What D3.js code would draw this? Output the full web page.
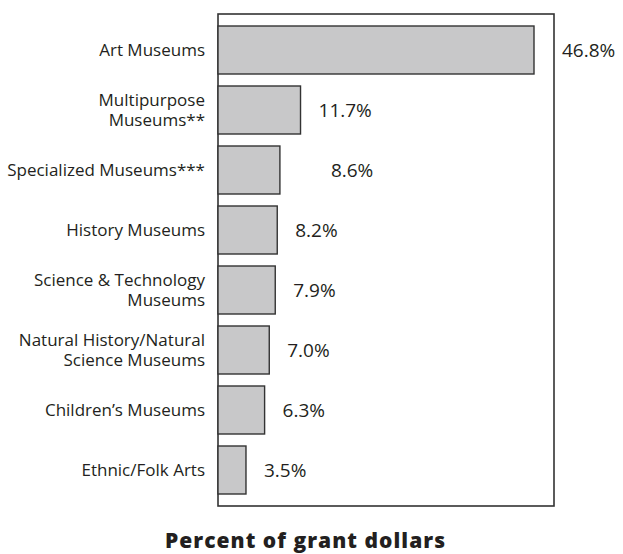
<!DOCTYPE html>
<html>
<head>
<meta charset="utf-8">
<script src="https://cdn.jsdelivr.net/npm/d3@7/dist/d3.min.js"></script>
<style>
  html, body { margin: 0; padding: 0; background: #fff; }
  svg { display: block; }
  text { font-family: "Open Sans", "Noto Sans", sans-serif; fill: #231f20; }
</style>
</head>
<body>
<svg id="chart" width="623" height="554"></svg>
<script>
// Museum grant categories (multi-line labels split with "|")
const categories = [
  "Art Museums",
  "Multipurpose|Museums**",
  "Specialized Museums***",
  "History Museums",
  "Science & Technology|Museums",
  "Natural History/Natural|Science Museums",
  "Children\u2019s Museums",
  "Ethnic/Folk Arts"
];
const percentValues = [46.8, 11.7, 8.6, 8.2, 7.9, 7.0, 6.3, 3.5];
const axisTitle = "Percent of grant dollars";

const svg = d3.select("#chart");

const frame = { left: 218, right: 554, top: 14, bottom: 506 };

const x = d3.scaleLinear()
  .domain([0, 46.8])
  .range([222.7, 534]);

const y = d3.scaleBand()
  .domain(categories)
  .range([20, 500])
  .paddingInner(0.2)
  .paddingOuter(0.1);

// plot frame
svg.append("rect")
  .attr("x", frame.left)
  .attr("y", frame.top)
  .attr("width", frame.right - frame.left)
  .attr("height", frame.bottom - frame.top)
  .attr("fill", "none")
  .attr("stroke", "#333")
  .attr("stroke-width", 1.6);

const rows = categories.map((c, i) => ({ cat: c, value: percentValues[i] }));

// bars grow from the frame's left edge
svg.append("g").selectAll("rect")
  .data(rows)
  .join("rect")
  .attr("x", frame.left)
  .attr("y", d => y(d.cat))
  .attr("width", d => x(d.value) - frame.left)
  .attr("height", y.bandwidth())
  .attr("fill", "#c8c8c9")
  .attr("stroke", "#333")
  .attr("stroke-width", 1.4);

// category labels, right aligned beside the frame
svg.append("g").selectAll("text")
  .data(rows)
  .join("text")
  .attr("text-anchor", "end")
  .attr("font-size", 17)
  .each(function(d) {
    const lines = d.cat.split("|");
    const cy = y(d.cat) + y.bandwidth() / 2;
    const lh = 20;
    const first = cy - (lines.length - 1) * lh / 2 + 6;
    d3.select(this).selectAll("tspan")
      .data(lines)
      .join("tspan")
      .attr("x", 205)
      .attr("y", (l, j) => first + j * lh)
      .text(l => l);
  });

// value labels; a few sit further out from the bar end
const labelGap = { "Art Museums": 28, "Specialized Museums***": 51 };
svg.append("g").selectAll("text")
  .data(rows)
  .join("text")
  .attr("x", d => x(d.value) + (labelGap[d.cat] || 18))
  .attr("y", d => y(d.cat) + y.bandwidth() / 2 + 6.5)
  .attr("font-size", 19)
  .text(d => d.value.toFixed(1) + "%");

// axis title
svg.append("text")
  .attr("x", 305)
  .attr("y", 548)
  .attr("text-anchor", "middle")
  .attr("font-size", 21)
  .attr("font-weight", 800)
  .attr("textLength", 280)
  .attr("lengthAdjust", "spacing")
  .text(axisTitle);
</script>
</body>
</html>
